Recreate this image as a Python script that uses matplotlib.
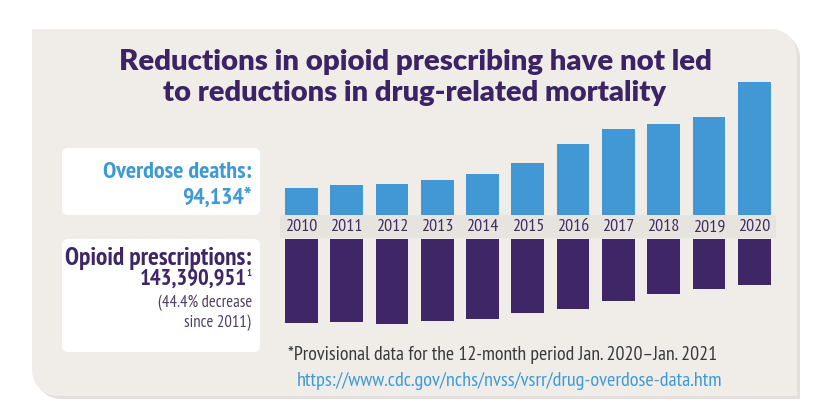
import matplotlib
matplotlib.use("Agg")
import matplotlib.pyplot as plt
from matplotlib import font_manager
from matplotlib.patches import FancyBboxPatch, PathPatch, Rectangle
from matplotlib.path import Path

# bar heights (relative units, no axis is shown)
years = ['2010', '2011', '2012', '2013', '2014', '2015',
         '2016', '2017', '2018', '2019', '2020']
overdose_deaths = [27, 30, 31, 35, 41, 52, 71, 86, 91, 98, 133]
opioid_rx = [84, 83, 85, 82, 80, 74, 70, 62, 55, 50, 46]

title_lines = ['Reductions in opioid prescribing have not led',
               'to reductions in drug-related mortality']
footnote = '*Provisional data for the 12-month period Jan. 2020\u2013Jan. 2021'
url = 'https://www.cdc.gov/nchs/nvss/vsrr/drug-overdose-data.htm'

PANEL = '#f0ede9'
BLUE = '#4298d5'
PURPLE = '#3f2767'
TITLE_C = '#3b2365'


def have(name):
    try:
        font_manager.findfont(name, fallback_to_default=False)
        return True
    except ValueError:
        return False


def first(names):
    for n in names:
        if have(n):
            return n
    return 'DejaVu Sans'


cond = first(['PT Sans Narrow', 'Fira Sans Condensed', 'Roboto Condensed',
              'Asap Condensed', 'Archivo Narrow'])
head = first(['Lato', 'PT Sans'])

W, H = 828, 419
fig = plt.figure(figsize=(W / 100, H / 100), dpi=100)
fig.patch.set_facecolor('white')
renderer = fig.canvas.get_renderer()

bg = fig.add_axes([0, 0, 1, 1])
bg.set_xlim(0, W)
bg.set_ylim(H, 0)
bg.axis('off')


def panel_path(x0, y0, x1, y1, r, dx=0, dy=0):
    # top-right and bottom-left corners rounded
    x0, x1, y0, y1 = x0 + dx, x1 + dx, y0 + dy, y1 + dy
    k = 0.55 * r
    verts = [(x0, y0), (x1 - r, y0),
             (x1 - r + k, y0), (x1, y0 + r - k), (x1, y0 + r),
             (x1, y1), (x0 + r, y1),
             (x0 + r - k, y1), (x0, y1 - r + k), (x0, y1 - r),
             (x0, y0)]
    codes = [Path.MOVETO, Path.LINETO,
             Path.CURVE4, Path.CURVE4, Path.CURVE4,
             Path.LINETO, Path.LINETO,
             Path.CURVE4, Path.CURVE4, Path.CURVE4,
             Path.CLOSEPOLY]
    return Path(verts, codes)


# shadow + panel
bg.add_patch(PathPatch(panel_path(32, 29, 797, 396, 26, 3, 3),
                       fc='#e2dfdc', ec='none'))
bg.add_patch(PathPatch(panel_path(32, 29, 797, 396, 26),
                       fc=PANEL, ec='none'))

# white label boxes
for (x0, y0, x1, y1) in [(62, 148, 260, 215), (62, 239, 260, 352)]:
    bg.add_patch(FancyBboxPatch((x0, y0), x1 - x0, y1 - y0,
                                boxstyle='round,pad=0,rounding_size=6',
                                fc='white', ec='none'))

# band behind year labels
bg.add_patch(Rectangle((280, 215), 496, 23, fc='#e7e3de', ec='none'))


def put(x, y, s, width, **kw):
    t = fig.text(x / W, 1 - y / H, s, fontsize=10, **kw)
    bb = t.get_window_extent(renderer)
    t.set_fontsize(10 * width / bb.width)
    return t


put(415, 62, title_lines[0], 597, ha='center', va='center',
    family=head, weight='heavy', color=TITLE_C)
put(415, 93, title_lines[1], 508, ha='center', va='center',
    family=head, weight='heavy', color=TITLE_C)

put(252, 172, 'Overdose deaths:', 150, ha='right', va='center',
    family=cond, weight='bold', color='#3d9ad6')
put(252, 198, '94,134*', 70, ha='right', va='center',
    family=cond, weight='bold', color='#3d9ad6')
put(252, 258, 'Opioid prescriptions:', 188, ha='right', va='center',
    family=cond, weight='bold', color=PURPLE)
put(247, 279, '143,390,951', 108, ha='right', va='center',
    family=cond, weight='bold', color=PURPLE)
fig.text(246 / W, 1 - 273 / H, '1', fontsize=7.5, ha='left', va='center',
         family=cond, weight='bold', color=PURPLE)
fig.text(252 / W, 1 - 303 / H, '(44.4% decrease', fontsize=12,
         ha='right', va='center', family=cond, color='#4e3f66')
fig.text(251 / W, 1 - 323 / H, 'since 2011)', fontsize=12,
         ha='right', va='center', family=cond, color='#4e3f66')

put(288, 355, footnote, 429, ha='left', va='center',
    family=cond, color='#3a3a3a')
put(297, 381, url, 426, ha='left', va='center',
    family=cond, color='#3f9ad3')

# bar axes, placed in pixel terms
step = 45.3
x_left = 301.3 - step / 2
ax_w = step * len(years)

ax1 = fig.add_axes([x_left / W, 1 - 215 / H, ax_w / W, 140 / H])
ax1.bar(range(len(years)), overdose_deaths, width=0.72, color=BLUE)
ax1.set_xlim(-0.5, len(years) - 0.5)
ax1.set_ylim(0, 140)
ax1.set_facecolor('none')
for s in ax1.spines.values():
    s.set_visible(False)
ax1.set_yticks([])
ax1.set_xticks(range(len(years)), years)
ax1.tick_params(axis='x', length=0, pad=3, labelsize=13,
                labelcolor='#3f2c62')
for lab in ax1.get_xticklabels():
    lab.set_family(cond)

ax2 = fig.add_axes([x_left / W, 1 - 339 / H, ax_w / W, 100 / H])
ax2.bar(range(len(years)), opioid_rx, width=0.72, color=PURPLE)
ax2.set_xlim(-0.5, len(years) - 0.5)
ax2.set_ylim(100, 0)
ax2.axis('off')

fig.savefig('out.png', dpi=100, facecolor='white')
